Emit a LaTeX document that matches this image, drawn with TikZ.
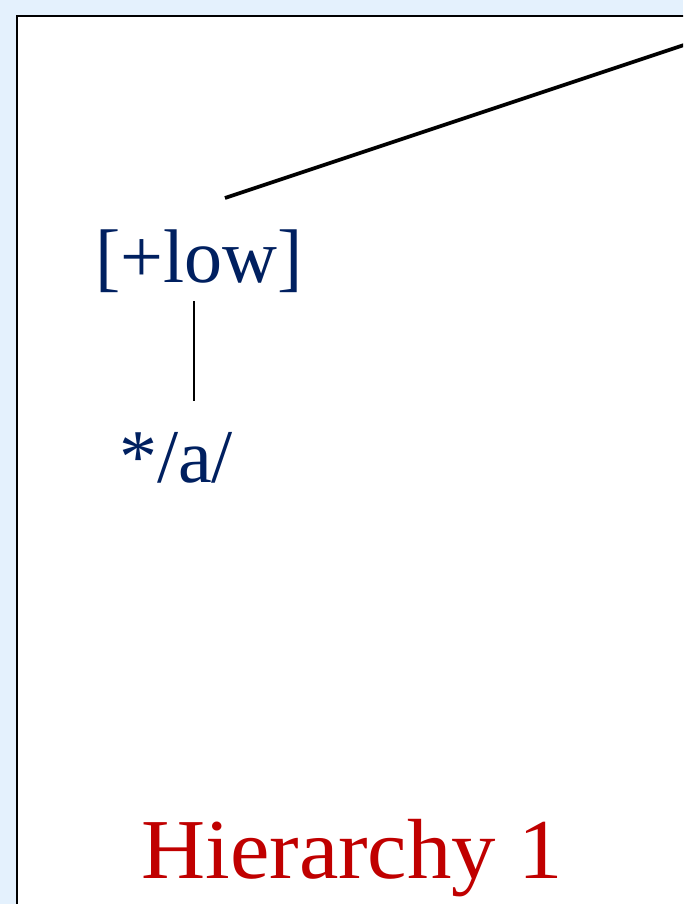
\documentclass[tikz,border=0pt]{standalone}
\usepackage{fontspec}
\setmainfont{Liberation Serif}
\usepackage{xcolor}
\usetikzlibrary{positioning}
\definecolor{slidebg}{HTML}{E4F1FD}
\definecolor{featblue}{HTML}{002060}
\definecolor{titlered}{HTML}{C00000}

\begin{document}
\begin{tikzpicture}[x=0.75pt, y=-0.75pt, every node/.style={inner sep=0pt},
  feat/.style={text=featblue, font=\fontsize{57}{60}\selectfont},
  title/.style={text=titlered, font=\fontsize{64}{67}\selectfont, xscale=1.04},
  branch/.style={line width=2.8pt},
  stem/.style={line width=1pt}]
  \useasboundingbox (0,0) rectangle (683,904);
  \clip (0,0) rectangle (683,904);
  \fill[slidebg] (0,0) rectangle (683,904);
  \draw[line width=1.5pt, fill=white] (17,16) rectangle (720,940);
  \node[feat, anchor=base] (low) at (199,282) {[+low]};
  \node[feat, anchor=base] (seg) at (176,482) {*/a/};
  \node[title, anchor=base] (hier) at (352,878) {Hierarchy 1};
  \coordinate (root) at (750,23);
  \draw[branch] ([shift={(26,-31)}]low.north) -- (root);
  \draw[stem] ([shift={(-5,9)}]low.south) -- ([shift={(-5,-31)}]low.south |- seg.north);
\end{tikzpicture}
\end{document}
